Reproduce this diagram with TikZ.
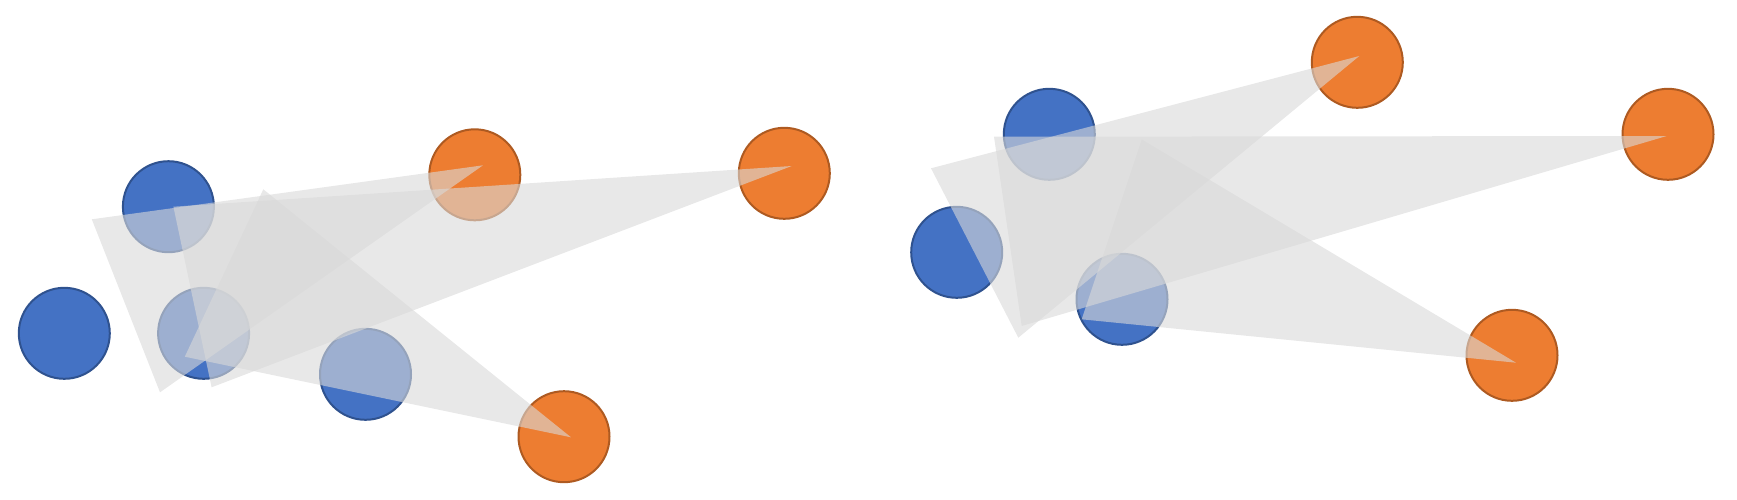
\documentclass[tikz,border=0pt]{standalone}
\usepackage{tikz}
\definecolor{bluefill}{HTML}{4472C4}
\definecolor{bluedraw}{HTML}{2F528F}
\definecolor{orfill}{HTML}{ED7D31}
\definecolor{ordraw}{HTML}{AE5A21}
\definecolor{trigray}{HTML}{D9D9D9}
\tikzset{
  bdot/.style={circle, fill=bluefill, draw=bluedraw, line width=2pt, minimum size=91pt, inner sep=0pt},
  odot/.style={circle, fill=orfill, draw=ordraw, line width=2pt, minimum size=91pt, inner sep=0pt},
  tri/.style={fill=trigray, fill opacity=0.6}
}
\begin{document}
\begin{tikzpicture}[x=1pt,y=-1pt]
\useasboundingbox (0,0) rectangle (1737,499);
% left group
\node[bdot] (b1) at (168.4,206.7) {};
\node[bdot] (b2) at (64.3,333.3) {};
\node[bdot] (b3) at (203.6,333.3) {};
\node[bdot] (b4) at (365.5,374.3) {};
\node[odot] (o1) at (474.8,174.8) {};
\node[odot] (o2) at (784.3,173.3) {};
\node[odot] (o3) at (564,436.7) {};
% right group
\node[bdot] (b5) at (1049.3,134.3) {};
\node[bdot] (b6) at (956.7,252.3) {};
\node[bdot] (b7) at (1122,299.3) {};
\node[odot] (o4) at (1357.3,62.3) {};
\node[odot] (o5) at (1668,134.3) {};
\node[odot] (o6) at (1512,355.3) {};
% triangles
\fill[tri] (91.8,219.3) -- (483,165.3) -- (160,392.3) -- cycle;
\fill[tri] (173.4,206.7) -- (791.7,166) -- (211.6,387.3) -- cycle;
\fill[tri] (263.3,189.3) -- (571,437.3) -- (184.8,356.7) -- cycle;
\fill[tri] (931,168.3) -- (1359.3,56) -- (1018.3,337.7) -- cycle;
\fill[tri] (994,136.7) -- (1666.7,136) -- (1021.7,326) -- cycle;
\fill[tri] (1141.7,139.3) -- (1516,362.7) -- (1081.7,319.3) -- cycle;
\end{tikzpicture}
\end{document}
